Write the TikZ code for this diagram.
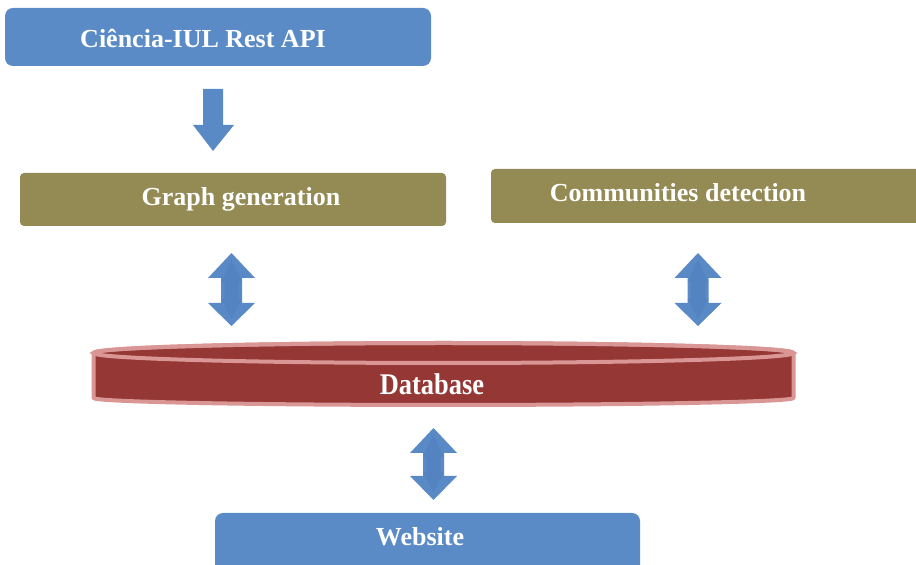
\documentclass[tikz,border=0pt]{standalone}
\usepackage{fontspec}
\setmainfont{Liberation Serif}
\definecolor{boxblue}{HTML}{5B8BC7}
\definecolor{arrowblue}{HTML}{5A8AC6}
\definecolor{arrowdark}{HTML}{4F7FBD}
\definecolor{olive}{HTML}{948A54}
\definecolor{dbred}{HTML}{953735}
\definecolor{dbedge}{HTML}{D99694}
\tikzset{
  bluebox/.style={fill=boxblue, draw=none, rounded corners=8pt},
  olivebox/.style={fill=olive, draw=none, rounded corners=4pt},
  lbl/.style={text=white, font=\fontsize{26}{30}\selectfont\bfseries, inner sep=0pt},
  blockarrow/.style={fill=arrowblue, draw=none},
}
\newcommand{\dblarrow}[5]{% cx, top, headbase1, headbase2, bottom
  \fill[arrowblue] (#1,#2) -- (#1+23.5,#3) -- (#1+10.5,#3) -- (#1+10.5,#4) -- (#1+23.5,#4)
     -- (#1,#5) -- (#1-23.5,#4) -- (#1-10.5,#4) -- (#1-10.5,#3) -- (#1-23.5,#3) -- cycle;
  \fill[arrowdark,opacity=0.6] (#1,#2-7) -- (#1+10.5,#3-4) -- (#1+7,#3-4) -- (#1+7,#4+4) -- (#1+10.5,#4+4)
     -- (#1,#5+7) -- (#1-10.5,#4+4) -- (#1-7,#4+4) -- (#1-7,#3-4) -- (#1-10.5,#3-4) -- cycle;
}
\begin{document}
\begin{tikzpicture}[x=1pt,y=1pt]
\useasboundingbox (0,0) rectangle (916,565);
% boxes
\fill[bluebox] (5,557) rectangle (431,499);
\node[lbl] (api) at (203,527) {Ciência-IUL Rest API};
\fill[olivebox] (20,392) rectangle (446,339);
\node[lbl] (graph) at (241,366) {Graph generation};
\fill[olivebox] (491,396) rectangle (920,342);
\node[lbl] (comm) at (678,372) {Communities detection};
\fill[bluebox] (215,52) rectangle (640,-10);
\node[lbl] (web) at (420,28) {Website};
% down arrow
\fill[arrowblue] (203,476) -- (223,476) -- (223,440) -- (234,440) -- (213,414) -- (193,440) -- (203,440) -- cycle;
% double arrows
\dblarrow{231.5}{312}{287}{262}{239}
\dblarrow{698}{312}{287}{262}{239}
\dblarrow{433.5}{137}{112}{89}{65}
% database cylinder
\filldraw[fill=dbred, draw=dbedge, line width=4pt, line join=round]
  (93.5,212) -- (93.5,167) arc[start angle=180, end angle=360, x radius=350, y radius=7]
  -- (793.5,212) arc[start angle=0, end angle=180, x radius=350, y radius=10] -- cycle;
\draw[dbedge, line width=4pt] (443.5,212) ellipse[x radius=350, y radius=10];
\node[lbl, font=\fontsize{30}{34}\selectfont\bfseries, xscale=0.88] (db) at (432,181) {Database};
\end{tikzpicture}
\end{document}
